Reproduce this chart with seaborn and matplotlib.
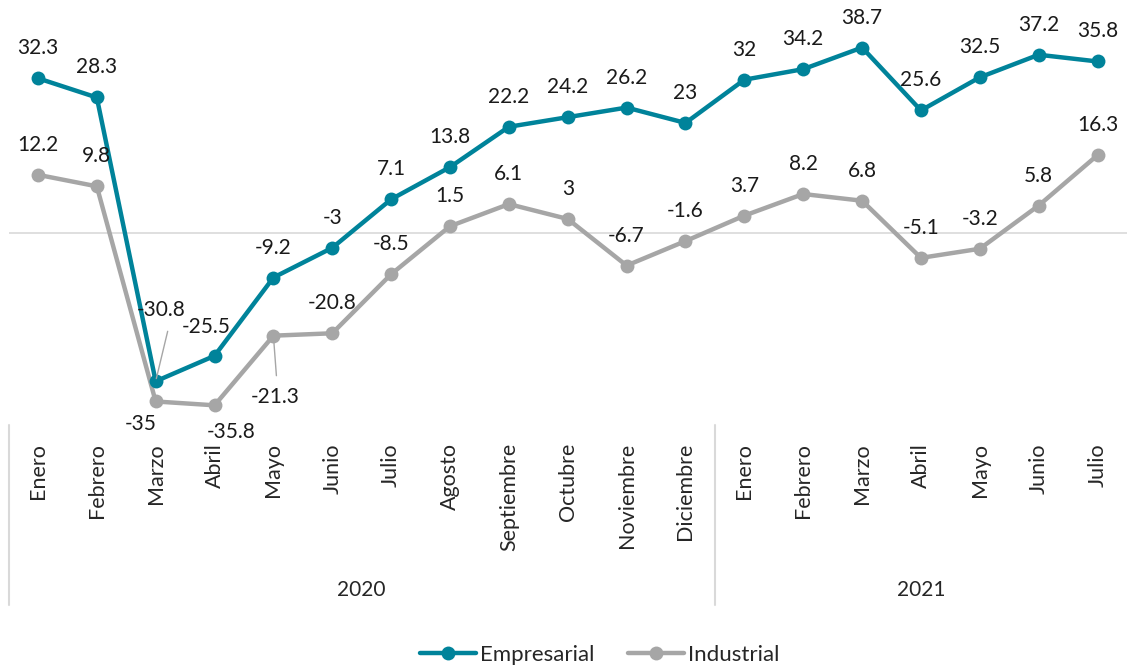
import numpy as np
import pandas as pd
import seaborn as sns
import matplotlib.pyplot as plt
import matplotlib.transforms as mtransforms

sns.set_style("white")
plt.rcParams['font.family'] = ['Lato', 'DejaVu Sans']

# datos
meses = ["Enero", "Febrero", "Marzo", "Abril", "Mayo", "Junio", "Julio", "Agosto",
         "Septiembre", "Octubre", "Noviembre", "Diciembre",
         "Enero", "Febrero", "Marzo", "Abril", "Mayo", "Junio", "Julio"]
anios = ["2020", "2021"]
meses_por_anio = [12, 7]
empresarial = [32.3, 28.3, -30.8, -25.5, -9.2, -3, 7.1, 13.8, 22.2, 24.2, 26.2, 23,
               32, 34.2, 38.7, 25.6, 32.5, 37.2, 35.8]
industrial = [12.2, 9.8, -35, -35.8, -21.3, -20.8, -8.5, 1.5, 6.1, 3, -6.7, -1.6,
              3.7, 8.2, 6.8, -5.1, -3.2, 5.8, 16.3]

series = ["Empresarial", "Industrial"]
colores = {"Empresarial": "#00839A", "Industrial": "#A6A6A6"}

n = len(meses)
df = pd.concat([
    pd.DataFrame({"idx": range(n), "valor": empresarial, "serie": "Empresarial"}),
    pd.DataFrame({"idx": range(n), "valor": industrial, "serie": "Industrial"}),
])

fig = plt.figure(figsize=(11.27, 6.69), dpi=100)
ax = fig.add_axes([8.5 / 1127, 244 / 669, 1118.5 / 1127, 425 / 669])

ax.axhline(0, color="#d9d9d9", lw=1.2, zorder=0)

sns.lineplot(data=df[df.serie == "Industrial"], x="idx", y="valor", color=colores["Industrial"],
             marker="o", markersize=10, markeredgewidth=0, linewidth=3.2, ax=ax, zorder=2,
             label="Industrial")
sns.lineplot(data=df[df.serie == "Empresarial"], x="idx", y="valor", color=colores["Empresarial"],
             marker="o", markersize=10, markeredgewidth=0, linewidth=3.2, ax=ax, zorder=3,
             label="Empresarial")

ax.set_xlim(-0.5, n - 0.5)
ax.set_ylim(-39.9, 48.6)
ax.set_xlabel("")
ax.set_ylabel("")
ax.set_yticks([])
ax.set_xticks(range(n))
ax.set_xticklabels(meses, rotation=90, fontsize=15.5, va="top", ha="center")
ax.tick_params(axis="x", length=0, pad=13)
for s in ax.spines.values():
    s.set_visible(False)

# etiquetas de datos (desplazamientos en pixeles)
esp_emp = {2: (5, 71), 3: (-8, 29)}
esp_ind = {2: (-15, -23), 3: (17, -27), 4: (2, -61)}
for i, v in enumerate(empresarial):
    dx, dy = esp_emp.get(i, (0, 30))
    ax.annotate(f"{v:g}", (i, v), xytext=(dx, dy), textcoords="offset pixels",
                ha="center", va="center", fontsize=15, color="#1a1a1a")
for i, v in enumerate(industrial):
    dx, dy = esp_ind.get(i, (0, 30))
    ax.annotate(f"{v:g}", (i, v), xytext=(dx, dy), textcoords="offset pixels",
                ha="center", va="center", fontsize=15, color="#1a1a1a")

# lineas guia
ax.annotate("", (2, empresarial[2]), xytext=(12, 50), textcoords="offset pixels",
            arrowprops=dict(arrowstyle="-", color="#a6a6a6", lw=1, shrinkA=0, shrinkB=2))
ax.annotate("", (4, industrial[4]), xytext=(3, -40), textcoords="offset pixels",
            arrowprops=dict(arrowstyle="-", color="#a6a6a6", lw=1, shrinkA=0, shrinkB=4))

# eje de categorias en dos niveles
trans = mtransforms.blended_transform_factory(ax.transData, ax.transAxes)
fondo = -180 / 425
inicio = -0.5
for anio, k in zip(anios, meses_por_anio):
    ax.plot([inicio, inicio], [0, fondo], transform=trans, color="#d9d9d9", lw=1.5, clip_on=False)
    ax.text(inicio + k / 2, -165 / 425, anio, transform=trans, ha="center", va="center",
            fontsize=15)
    inicio += k

ax.get_legend().remove()
h, l = ax.get_legend_handles_labels()
orden = [l.index(s) for s in series]
fig.legend([h[i] for i in orden], [l[i] for i in orden], loc="center",
           bbox_to_anchor=(600 / 1127, 14 / 669), ncol=2, frameon=False, fontsize=16,
           handlelength=2.5, handletextpad=0.2, columnspacing=1.5)

fig.savefig("out.png", dpi=100)
